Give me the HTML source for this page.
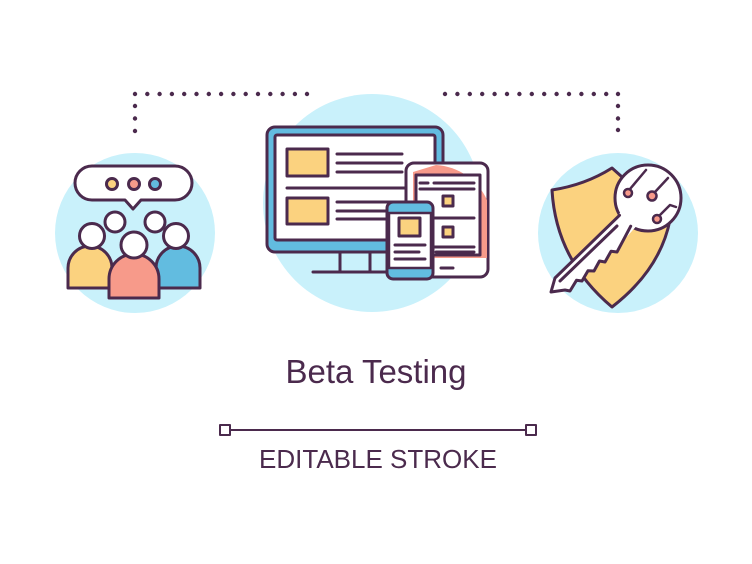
<!DOCTYPE html>
<html><head><style>
html,body{margin:0;padding:0;background:#fff;}
svg{display:block}
</style></head><body>
<svg width="752" height="564" viewBox="0 0 752 564" xmlns="http://www.w3.org/2000/svg">
<g fill="#4b2a4d">
<circle cx="135" cy="94" r="2.2"/><circle cx="147.3" cy="94" r="2.2"/><circle cx="159.6" cy="94" r="2.2"/><circle cx="171.9" cy="94" r="2.2"/><circle cx="184.2" cy="94" r="2.2"/><circle cx="196.5" cy="94" r="2.2"/><circle cx="208.8" cy="94" r="2.2"/><circle cx="221.1" cy="94" r="2.2"/><circle cx="233.4" cy="94" r="2.2"/><circle cx="245.7" cy="94" r="2.2"/><circle cx="258" cy="94" r="2.2"/><circle cx="270.3" cy="94" r="2.2"/><circle cx="282.6" cy="94" r="2.2"/><circle cx="294.9" cy="94" r="2.2"/><circle cx="307" cy="94" r="2.2"/>
<circle cx="135" cy="106" r="2.2"/><circle cx="135" cy="118.5" r="2.2"/><circle cx="135" cy="131" r="2.2"/>
<circle cx="445" cy="94" r="2.2"/><circle cx="457.4" cy="94" r="2.2"/><circle cx="469.8" cy="94" r="2.2"/><circle cx="482.2" cy="94" r="2.2"/><circle cx="494.6" cy="94" r="2.2"/><circle cx="507" cy="94" r="2.2"/><circle cx="519.4" cy="94" r="2.2"/><circle cx="531.8" cy="94" r="2.2"/><circle cx="544.2" cy="94" r="2.2"/><circle cx="556.6" cy="94" r="2.2"/><circle cx="569" cy="94" r="2.2"/><circle cx="581.4" cy="94" r="2.2"/><circle cx="593.8" cy="94" r="2.2"/><circle cx="606.2" cy="94" r="2.2"/><circle cx="618" cy="94" r="2.2"/>
<circle cx="618" cy="106" r="2.2"/><circle cx="618" cy="118.5" r="2.2"/><circle cx="618" cy="130" r="2.2"/>
</g>
<circle cx="135" cy="233" r="80" fill="#c9f1fb"/>
<circle cx="372" cy="203" r="109" fill="#c9f1fb"/>
<circle cx="618" cy="233" r="80" fill="#c9f1fb"/>

<g stroke="#4b2a4d" stroke-width="3" stroke-linejoin="round" stroke-linecap="round">
<path d="M92 166 H175 A17 17 0 0 1 175 200 H141 L133 209 L125 200 H92 A17 17 0 0 1 92 166 Z" fill="#fff"/>
<circle cx="112" cy="184" r="5.5" fill="#fbd27f"/>
<circle cx="134" cy="184" r="5.5" fill="#f79a8a"/>
<circle cx="155" cy="184" r="5.5" fill="#62bce0"/>
<circle cx="115" cy="222" r="10" fill="#fff"/>
<circle cx="155" cy="222" r="10" fill="#fff"/>
<path d="M68 288 V268 A22 22 0 0 1 112 268 V288 Z" fill="#fbd27f"/>
<path d="M156 288 V268 A22 22 0 0 1 200 268 V288 Z" fill="#62bce0"/>
<circle cx="92" cy="236" r="12.5" fill="#fff"/>
<circle cx="176" cy="236" r="12.5" fill="#fff"/>
<path d="M109 298 V279 A25 25 0 0 1 159 279 V298 Z" fill="#f79a8a"/>
<circle cx="134" cy="245" r="13" fill="#fff"/>

<rect x="267" y="127" width="176" height="125" rx="8" fill="#62bce0"/>
<rect x="275" y="135" width="160" height="105" rx="2" fill="#fff"/>
<path d="M340 252 V272 M370 252 V272 M313 272 H398"/>
<rect x="287" y="149" width="41" height="27" fill="#fbd27f"/>
<rect x="287" y="198" width="41" height="26" fill="#fbd27f"/>
<path d="M337 154 H402 M337 163 H402 M337 172 H402 M287 188 H410 M337 202 H400 M337 211 H400 M337 219 H390"/>
<rect x="406" y="163" width="82" height="114" rx="8" fill="#fff"/>
<path d="M436 165 A60 60 0 0 1 487 200 V258 H413 V172 Z" fill="#f79a8a" stroke="none"/>
<rect x="416" y="175" width="64" height="80" fill="#fff"/>
<path d="M420 183 H428 M434 183 H474 M420 189 H474 M420 218 H474 M420 247 H474 M420 252 H430 M436 252 H474 M441 268 H453"/>
<rect x="443" y="196" width="10" height="10" fill="#fbd27f"/>
<rect x="443" y="227" width="10" height="10" fill="#fbd27f"/>
<rect x="387" y="202" width="46" height="77" rx="6" fill="#62bce0"/>
<rect x="389" y="213" width="42" height="55" fill="#fff" stroke-width="2.5"/>
<rect x="399" y="218" width="21" height="18" fill="#fbd27f"/>
<path d="M395 245 H425 M395 252 H419 M395 259 H425"/>

<!-- shield -->
<path d="M612 168 Q585 185 552 190 Q556 260 612 307 Q660 270 670 220 Z" fill="#fbd27f"/>
<!-- key -->
<circle cx="648" cy="198" r="33" fill="#fff"/>
<path d="M625 208 L555 278 L551 292 L565 290 L570 291 L576.5 280.3 L582 281 L588 270.7 L594 271 L599.5 261 L605 262 L611 251.3 L617 252 L622.5 241.7 L640 222 Z" fill="#fff" stroke="none"/>
<path d="M619.5 215.3 L555 278 L551 292 L565 290 L570 291 L576.5 280.3 L582 281 L588 270.7 L594 271 L599.5 261 L605 262 L611 251.3 L617 252 L622.5 241.7 L630.7 226.2" fill="none"/>
<path d="M560 281 L617 226" fill="none"/>
<path d="M630 189 L646 170 M655 192 L668 178 M660 215 L670 205 L676 207" fill="none" stroke-width="2.5"/>
<circle cx="628" cy="193" r="4" fill="#f79a8a" stroke-width="2.5"/>
<circle cx="652" cy="196" r="4.5" fill="#f79a8a" stroke-width="2.5"/>
<circle cx="657" cy="219" r="4" fill="#f79a8a" stroke-width="2.5"/>

<path d="M231 430 H525" stroke-width="2"/>
<rect x="220" y="425" width="10" height="10" fill="#fff" stroke-width="2"/>
<rect x="526" y="425" width="10" height="10" fill="#fff" stroke-width="2"/>
</g>
<text x="376" y="383" text-anchor="middle" font-family="Liberation Sans, sans-serif" font-size="33" fill="#4b2a4d">Beta Testing</text>
<text x="378" y="468" text-anchor="middle" font-family="Liberation Sans, sans-serif" font-size="26" fill="#4b2a4d">EDITABLE STROKE</text>
</svg>
</body></html>
